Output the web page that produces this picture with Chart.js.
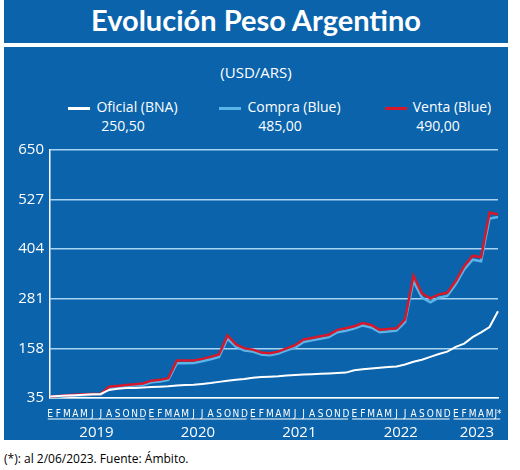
<!DOCTYPE html>
<html><head><meta charset="utf-8">
<script src="https://cdn.jsdelivr.net/npm/chart.js@4/dist/chart.umd.min.js"></script>
<style>
body{margin:0;width:520px;height:470px;background:#fff;font-family:"Open Sans",sans-serif;position:relative;overflow:hidden}
#bg{position:absolute;left:4px;top:0;width:504px;height:440px;background:#0a63ab}
#sep{position:absolute;left:4px;top:43px;width:504px;height:4px;background:#fff}
#title{position:absolute;left:4px;top:2px;width:504px;text-align:center;color:#fff;font:bold 29px Lato,sans-serif}
#unit{position:absolute;left:4px;top:62px;width:504px;text-align:center;color:#fff;font-size:15px}
.leg{position:absolute;top:97px;color:#fff;font-size:14px;line-height:19px;text-align:center;white-space:nowrap}
.leg i{display:inline-block;width:22px;height:3px;vertical-align:middle;margin-right:6px}
#foot{position:absolute;left:4px;top:450px;font-size:12px;color:#000}
#wrap{position:absolute;left:4px;top:135px;width:504px;height:305px}
</style></head><body>
<div id="bg"></div><div id="sep"></div>
<div id="title">Evolución Peso Argentino</div>
<div id="unit">(USD/ARS)</div>
<div class="leg" style="left:58px;width:130px"><i style="background:#fff"></i>Oficial (BNA)<br>250,50</div>
<div class="leg" style="left:210px;width:140px"><i style="background:#5ab4e8"></i>Compra (Blue)<br>485,00</div>
<div class="leg" style="left:368px;width:140px"><i style="background:#d7182a"></i>Venta (Blue)<br>490,00</div>
<div id="wrap"><canvas id="c" width="504" height="305"></canvas></div>
<div id="foot">(*): al 2/06/2023. Fuente: Ámbito.</div>
<script>
const months = ['E','F','M','A','M','J','J','A','S','O','N','D'];
const labels = [];
for (let y = 0; y < 4; y++) labels.push(...months);
labels.push('E','F','M','A','M','J*');
const years = ['2019','2020','2021','2022','2023'];
const yTicks = [35, 158, 281, 404, 527, 650];

const oficial = [39,40,41,42,43,44,45,55,58,60,60,61,
  62,63,64,66,67,68,70,72,75,78,80,82,
  85,87,88,89,91,92,93,94,95,96,97,98,
  104,106,108,110,112,113,118,125,130,137,144,150,
  162,170,186,198,211,250];
const compra = [37,38,40,41,42,43,43,60,62,64,66,68,
  74,76,80,121,121,122,126,131,137,182,162,153,
  150,143,141,145,153,160,174,178,182,186,198,202,
  207,215,210,198,200,202,223,325,284,272,284,288,
  317,354,378,374,480,484];
const venta = [39,40,42,43,44,45,45,63,65,67,69,71,
  78,80,84,128,128,128,132,137,143,190,168,158,
  155,148,146,150,158,166,180,184,188,192,204,208,
  213,221,216,204,206,208,230,338,294,282,292,296,
  325,362,388,384,495,490];

const yearPlugin = {
  id: 'years',
  afterDraw(chart) {
    const ctx = chart.ctx, x = chart.scales.x, b = chart.chartArea.bottom;
    const step = x.getPixelForValue(1) - x.getPixelForValue(0);
    ctx.save();
    ctx.strokeStyle = '#fff'; ctx.fillStyle = '#fff'; ctx.lineWidth = 1.2;
    ctx.font = '15px "Open Sans"'; ctx.textAlign = 'center'; ctx.textBaseline = 'middle';
    years.forEach((yr, i) => {
      const s = i * 12, e = Math.min(s + 11, labels.length - 1);
      const x0 = x.getPixelForValue(s) - step / 2 + 2, x1 = x.getPixelForValue(e) + step / 2 - 2;
      ctx.beginPath(); ctx.moveTo(x0, b + 21); ctx.lineTo(x1, b + 21); ctx.stroke();
      ctx.fillText(yr, (x0 + x1) / 2, b + 35);
    });
    ctx.restore();
  }
};

new Chart(document.getElementById('c'), {
  type: 'line',
  data: {
    labels: labels,
    datasets: [
      { label: 'Oficial (BNA)', data: oficial, borderColor: '#ffffff', borderWidth: 2 },
      { label: 'Venta (Blue)', data: venta, borderColor: '#d7182a', borderWidth: 2.5 },
      { label: 'Compra (Blue)', data: compra, borderColor: '#5ab4e8', borderWidth: 2.5 }
    ]
  },
  options: {
    responsive: false, animation: false,
    elements: { point: { radius: 0 }, line: { tension: 0 } },
    layout: { padding: { left: 0, right: 10, top: 12, bottom: 0 } },
    plugins: { legend: { display: false }, tooltip: { enabled: false } },
    scales: {
      x: {
        offset: false,
        grid: { display: false },
        border: { color: '#ffffff', width: 1.5 },
        afterFit: s => { s.height = 42; },
        ticks: { color: '#fff', autoSkip: false, maxRotation: 0, padding: 2,
          font: { family: 'DejaVu Sans Condensed', size: 10 } }
      },
      y: {
        min: 35, max: 650,
        afterFit: s => { s.width = 46; },
        afterBuildTicks: s => { s.ticks = yTicks.map(v => ({ value: v })); },
        grid: { color: '#a8d4f2', lineWidth: 1.5, drawTicks: false },
        border: { color: '#ffffff', width: 1.5 },
        ticks: { color: '#fff', padding: 6, font: { family: 'Open Sans', size: 15 } }
      }
    }
  },
  plugins: [yearPlugin]
});
</script>
</body></html>
